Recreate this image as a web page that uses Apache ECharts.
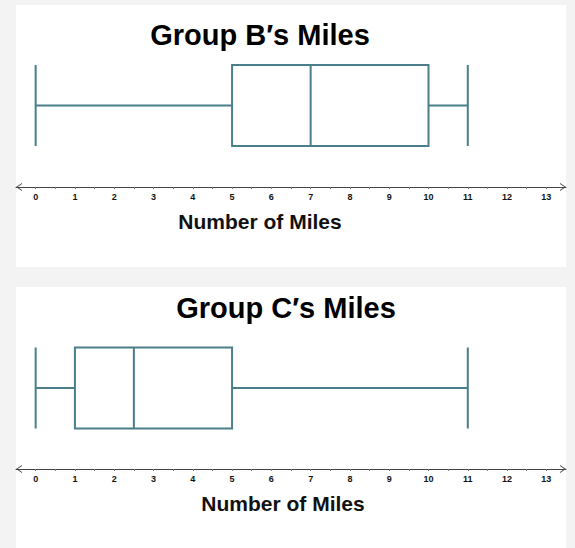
<!DOCTYPE html>
<html><head><meta charset="utf-8">
<script src="https://cdn.jsdelivr.net/npm/echarts@6/dist/echarts.min.js"></script>
<style>html,body{margin:0;padding:0;background:#f3f3f3;overflow:hidden}#c{width:575px;height:548px;}</style>
</head><body><div id="c"></div>
<script>
const panelTitles = ["Group B\u2032s Miles", "Group C\u2032s Miles"];
const axisTitle = "Number of Miles";
const categories = ["Group B", "Group C"];
// [min, Q1, median, Q3, max]
const groupB = [0, 5, 7, 10, 11];
const groupC = [0, 1, 2.5, 5, 11];
const tickLabels = [0, 1, 2, 3, 4, 5, 6, 7, 8, 9, 10, 11, 12, 13];
const tickMarks = [0, 0.5, 1, 1.5, 2, 2.5, 3, 3.5, 4, 4.5, 5, 5.5, 6, 6.5, 7, 7.5, 8, 8.5, 9, 9.5, 10, 10.5, 11, 11.5, 12, 12.5, 13];

const teal = '#4a7e8a';
const chev = 'path://M0,6 L4,0 L8,6 L6.9,6 L4,1.6 L1.1,6 Z';

function xAx(gi, namePad) {
  return {
    type: 'value', gridIndex: gi, min: -0.5, max: 13.5,
    axisLine: { show: true, lineStyle: { color: '#444', width: 1 }, symbol: [chev, chev], symbolSize: [8, 6], symbolOffset: [3, -3] },
    axisTick: { show: true, customValues: tickMarks, length: 2, lineStyle: { color: '#777' } },
    axisLabel: { customValues: tickLabels, fontSize: 9, fontWeight: 'bold', color: '#111', margin: 5, fontFamily: 'Liberation Sans' },
    splitLine: { show: false },
    name: axisTitle, nameLocation: 'middle', nameGap: 24,
    nameTextStyle: { fontSize: 21, fontWeight: 'bold', color: '#111', fontFamily: 'Liberation Sans', padding: [0, namePad, 0, 0] }
  };
}
function yAx(gi, cat) {
  return { type: 'category', gridIndex: gi, data: [cat], show: false };
}
function box(gi, vals) {
  return {
    type: 'boxplot', xAxisIndex: gi, yAxisIndex: gi, data: [vals], boxWidth: [81, 81], silent: true,
    itemStyle: { color: '#fff', borderColor: teal, borderWidth: 2 }
  };
}
function titleText(txt, x, y) {
  return { type: 'text', x: x, y: y, z: 10, silent: true,
    style: { text: txt, fontSize: 29, fontWeight: 'bold', fontFamily: 'Liberation Sans', fill: '#000', align: 'center', verticalAlign: 'middle' } };
}

const chart = echarts.init(document.getElementById('c'), null, { renderer: 'svg' });
chart.setOption({
  animation: false,
  backgroundColor: '#f3f3f3',
  graphic: [
    { type: 'rect', z: -10, silent: true, shape: { x: 16, y: 5, width: 550, height: 262 }, style: { fill: '#fff' } },
    { type: 'rect', z: -10, silent: true, shape: { x: 16, y: 287, width: 550, height: 261 }, style: { fill: '#fff' } },
    titleText(panelTitles[0], 260, 35),
    titleText(panelTitles[1], 286, 308)
  ],
  grid: [
    { left: 16, right: 9, top: 24, height: 163 },
    { left: 16, right: 9, top: 307, height: 162 }
  ],
  xAxis: [xAx(0, 62), xAx(1, 16)],
  yAxis: [yAx(0, categories[0]), yAx(1, categories[1])],
  series: [box(0, groupB), box(1, groupC)]
});
</script></body></html>
